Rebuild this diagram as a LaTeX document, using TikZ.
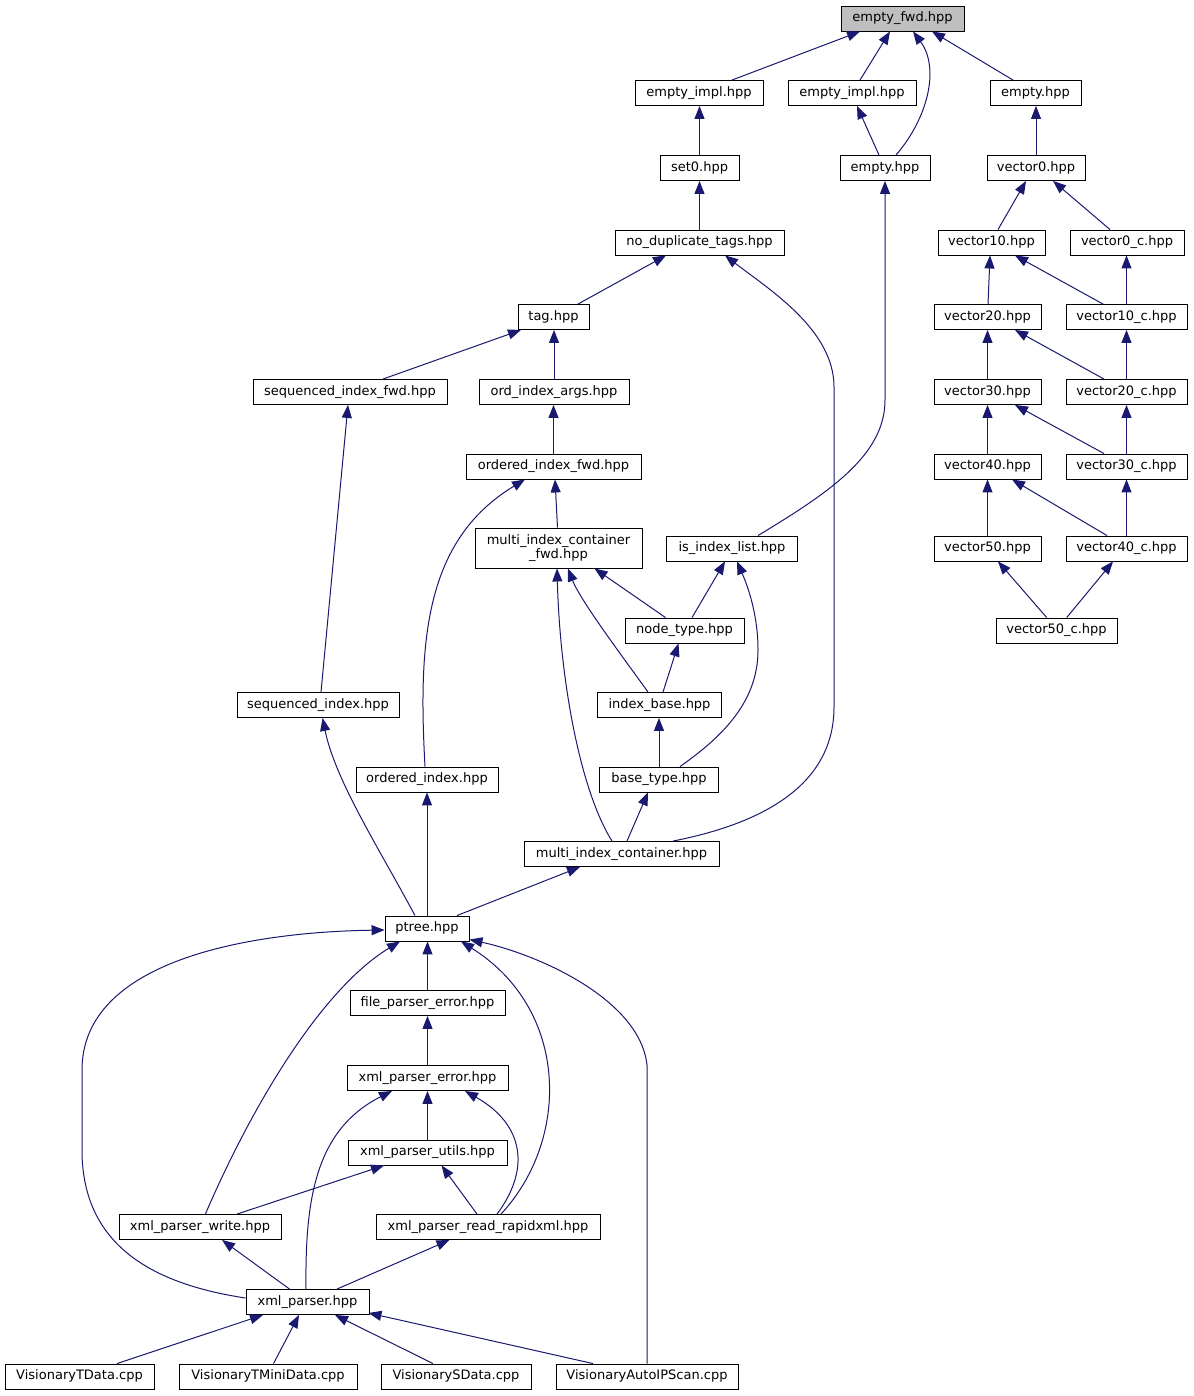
\documentclass[tikz,border=0pt]{standalone}
\usepackage{fontspec}
\setmainfont{DejaVu Sans}
\usetikzlibrary{arrows.meta}
\definecolor{edgeblue}{HTML}{191970}
\definecolor{rootgray}{HTML}{BFBFBF}
\begin{document}
\begin{tikzpicture}[x=1pt,y=-1pt,
  box/.style={draw=black, line width=0.9pt, fill=white, minimum height=25pt, inner sep=0pt,
    font=\fontsize{13}{14}\selectfont, text height=9.6pt, text depth=3pt},
  edge/.style={draw=edgeblue, line width=1pt, -{Triangle[length=13pt,width=10pt]}}]
\useasboundingbox (0,0) rectangle (1193,1396);
\fill[white] (0,0) rectangle (1193,1396);
% nodes
\node[box, minimum width=123pt, fill=rootgray] (efwd) at (902.5,18.5) {empty\_fwd.hpp};
\node[box, minimum width=128pt] (eimplA) at (699,93) {empty\_impl.hpp};
\node[box, minimum width=128pt] (eimplB) at (852,93) {empty\_impl.hpp};
\node[box, minimum width=91pt] (emptyA) at (1035.5,93) {empty.hpp};
\node[box, minimum width=79pt] (set0) at (699.5,168) {set0.hpp};
\node[box, minimum width=90pt] (emptyB) at (885,168) {empty.hpp};
\node[box, minimum width=98pt] (vec0) at (1036,168) {vector0.hpp};
\node[box, minimum width=169pt] (nodup) at (699.5,242.5) {no\_duplicate\_tags.hpp};
\node[box, minimum width=107pt] (vec10) at (991.5,242.5) {vector10.hpp};
\node[box, minimum width=114pt] (vec0c) at (1127,242.5) {vector0\_c.hpp};
\node[box, minimum width=71pt] (tag) at (553.5,317) {tag.hpp};
\node[box, minimum width=107pt] (vec20) at (987.5,317) {vector20.hpp};
\node[box, minimum width=121pt] (vec10c) at (1126.5,317) {vector10\_c.hpp};
\node[box, minimum width=194pt] (seqfwd) at (350,392) {sequenced\_index\_fwd.hpp};
\node[box, minimum width=150pt] (ordargs) at (554,392) {ord\_index\_args.hpp};
\node[box, minimum width=107pt] (vec30) at (987.5,392) {vector30.hpp};
\node[box, minimum width=121pt] (vec20c) at (1126.5,392) {vector20\_c.hpp};
\node[box, minimum width=175pt] (ordfwd) at (553.5,466.5) {ordered\_index\_fwd.hpp};
\node[box, minimum width=107pt] (vec40) at (987.5,466.5) {vector40.hpp};
\node[box, minimum width=121pt] (vec30c) at (1126.5,466.5) {vector30\_c.hpp};
\node[box, minimum width=167pt, minimum height=40pt, text height={}, text depth={}, align=center] (micfwd) at (558.5,548) {multi\_index\_container\\\_fwd.hpp};
\node[box, minimum width=131pt] (isil) at (732,548.5) {is\_index\_list.hpp};
\node[box, minimum width=107pt] (vec50) at (987.5,548.5) {vector50.hpp};
\node[box, minimum width=121pt] (vec40c) at (1126.5,548.5) {vector40\_c.hpp};
\node[box, minimum width=119pt] (ntype) at (684.5,630.5) {node\_type.hpp};
\node[box, minimum width=121pt] (vec50c) at (1056.5,630.5) {vector50\_c.hpp};
\node[box, minimum width=162pt] (seqidx) at (318,705) {sequenced\_index.hpp};
\node[box, minimum width=124pt] (ibase) at (659.5,705) {index\_base.hpp};
\node[box, minimum width=142pt] (ordidx) at (427,779.5) {ordered\_index.hpp};
\node[box, minimum width=119pt] (btype) at (659,779.5) {base\_type.hpp};
\node[box, minimum width=195pt] (mic) at (621.5,854) {multi\_index\_container.hpp};
\node[box, minimum width=84pt] (ptree) at (427,928.5) {ptree.hpp};
\node[box, minimum width=155pt] (fpe) at (427.5,1003) {file\_parser\_error.hpp};
\node[box, minimum width=161pt] (xpe) at (427.5,1078) {xml\_parser\_error.hpp};
\node[box, minimum width=159pt] (xpu) at (427.5,1152.5) {xml\_parser\_utils.hpp};
\node[box, minimum width=162pt] (xpw) at (200,1227) {xml\_parser\_write.hpp};
\node[box, minimum width=224pt] (xprr) at (488,1227) {xml\_parser\_read\_rapidxml.hpp};
\node[box, minimum width=123pt] (xp) at (307.5,1302) {xml\_parser.hpp};
\node[box, minimum width=149pt] (vt) at (79.5,1376.5) {VisionaryTData.cpp};
\node[box, minimum width=178pt] (vtm) at (268,1376.5) {VisionaryTMiniData.cpp};
\node[box, minimum width=150pt] (vs) at (456,1376.5) {VisionarySData.cpp};
\node[box, minimum width=182pt] (vaip) at (647,1376.5) {VisionaryAutoIPScan.cpp};
% edges
\draw[edge] ([xshift=33pt]eimplA.north) -- ([xshift=-42.5pt]efwd.south);
\draw[edge] ([xshift=8pt]eimplB.north) -- ([xshift=-12.5pt]efwd.south);
\draw[edge] ([xshift=11pt]emptyB.north) .. controls (928,118) and (940,68) .. ([xshift=10.5pt]efwd.south);
\draw[edge] ([xshift=-22.5pt]emptyA.north) -- ([xshift=29.5pt]efwd.south);
\draw[edge] ([xshift=-6pt]emptyB.north) -- ([xshift=5pt]eimplB.south);
\draw[edge] (set0.north) -- (set0.north |- eimplA.south);
\draw[edge] (vec0.north) -- (vec0.north |- emptyA.south);
\draw[edge] (nodup.north) -- (nodup.north |- set0.south);
\draw[edge] ([xshift=6.5pt]vec10.north) -- ([xshift=-10pt]vec0.south);
\draw[edge] ([xshift=-17pt]vec0c.north) -- ([xshift=17pt]vec0.south);
\draw[edge] ([xshift=26pt]isil.north) .. controls (830,492) and (885,455) .. (885,400) -- (emptyB.south);
\draw[edge] ([xshift=24.5pt]tag.north) -- ([xshift=-33.5pt]nodup.south);
\draw[edge] ([xshift=51.5pt]mic.north) .. controls (780,820) and (834,775) .. (834,707) -- (834,387) .. controls (834,330) and (770,290) .. ([xshift=25.5pt]nodup.south);
\draw[edge] ([xshift=-23.5pt]vec10c.north) -- ([xshift=23.5pt]vec10.south);
\draw[edge] (vec10c.north) -- (vec10c.north |- vec0c.south);
\draw[edge] ([xshift=0.5pt]vec20.north) -- ([xshift=-1.5pt]vec10.south);
\draw[edge] ([xshift=-22.5pt]vec20c.north) -- ([xshift=27.5pt]vec20.south);
\draw[edge] (vec20c.north) -- (vec10c.south);
\draw[edge] (vec30.north) -- (vec20.south);
\draw[edge] ([xshift=-22.5pt]vec30c.north) -- ([xshift=27.5pt]vec30.south);
\draw[edge] (vec30c.north) -- (vec20c.south);
\draw[edge] (vec40.north) -- (vec30.south);
\draw[edge] ([xshift=-19.5pt]vec40c.north) -- ([xshift=24.5pt]vec40.south);
\draw[edge] (vec40c.north) -- (vec30c.south);
\draw[edge] (vec50.north) -- (vec40.south);
\draw[edge] ([xshift=-9.8pt]vec50c.north) -- ([xshift=10.5pt]vec50.south);
\draw[edge] ([xshift=10.2pt]vec50c.north) -- ([xshift=-13.5pt]vec40c.south);
\draw[edge] ([xshift=33pt]seqfwd.north) -- ([xshift=-32.5pt]tag.south);
\draw[edge] (ordargs.north) -- (ordargs.north |- tag.south);
\draw[edge] (ordfwd.north) -- (ordfwd.north |- ordargs.south);
\draw[edge] ([xshift=-1pt]micfwd.north) -- ([xshift=1.5pt]ordfwd.south);
\draw[edge] ([xshift=-2pt]ordidx.north) .. controls (418,640) and (425,540) .. ([xshift=-28.5pt]ordfwd.south);
\draw[edge] ([xshift=3pt]seqidx.north) -- ([xshift=-2pt]seqfwd.south);
\draw[edge] ([xshift=-19pt]ntype.north) -- ([xshift=36pt]micfwd.south);
\draw[edge] ([xshift=7.5pt]ntype.north) -- ([xshift=-7pt]isil.south);
\draw[edge] ([xshift=-11.5pt]ibase.north) .. controls (625,660) and (580,600) .. ([xshift=9.5pt]micfwd.south);
\draw[edge] ([xshift=3.5pt]ibase.north) -- ([xshift=-6pt]ntype.south);
\draw[edge] (btype.north) -- (btype.north |- ibase.south);
\draw[edge] ([xshift=21pt]btype.north) .. controls (725,735) and (758,700) .. (758,650) .. controls (758,610) and (745,580) .. ([xshift=5pt]isil.south);
\draw[edge] ([xshift=-9.5pt]mic.north) .. controls (580,790) and (560,680) .. ([xshift=-1.5pt]micfwd.south);
\draw[edge] ([xshift=5.5pt]mic.north) -- ([xshift=-11pt]btype.south);
\draw[edge] ([xshift=30pt]ptree.north) -- ([xshift=-41.5pt]mic.south);
\draw[edge] ([xshift=-12pt]ptree.north) .. controls (380,850) and (335,780) .. ([xshift=4.6pt]seqidx.south);
\draw[edge] (ptree.north) -- (ptree.north |- ordidx.south);
\draw[edge] (fpe.north) -- (fpe.north |- ptree.south);
\draw[edge] (xpe.north) -- (xpe.north |- fpe.south);
\draw[edge] (xpu.north) -- (xpu.north |- xpe.south);
\draw[edge] ([xshift=5.4pt]xpw.north) .. controls (250,1110) and (320,990) .. ([xshift=-27pt]ptree.south);
\draw[edge] ([xshift=13pt]xprr.north) .. controls (570,1140) and (570,1010) .. ([xshift=34pt]ptree.south);
\draw[edge] ([yshift=4pt]xp.west) .. controls (160,1285) and (82,1250) .. (82,1150) -- (82,1070) .. controls (82,960) and (250,932) .. ([yshift=-1.5pt]ptree.west);
\draw[edge] (vaip.north) -- (vaip.north |- xpe.north) .. controls (640,1000) and (540,955) .. ([yshift=-11pt]ptree.east);
\draw[edge] ([xshift=37pt]xpw.north) -- ([xshift=-43.5pt]xpu.south);
\draw[edge] ([xshift=-11pt]xprr.north) -- ([xshift=14pt]xpu.south);
\draw[edge] ([xshift=9pt]xprr.north) .. controls (530,1170) and (525,1125) .. ([xshift=37.5pt]xpe.south);
\draw[edge] ([xshift=-1.5pt]xp.north) .. controls (305,1200) and (315,1130) .. ([xshift=-35.5pt]xpe.south);
\draw[edge] ([xshift=-18pt]xp.north) -- ([xshift=22pt]xpw.south);
\draw[edge] ([xshift=29.5pt]xp.north) -- ([xshift=-38.5pt]xprr.south);
\draw[edge] ([xshift=37.5pt]vt.north) -- ([xshift=-44.5pt]xp.south);
\draw[edge] ([xshift=5.5pt]vtm.north) -- ([xshift=-8.5pt]xp.south);
\draw[edge] ([xshift=-23pt]vs.north) -- ([xshift=27.5pt]xp.south);
\draw[edge] ([xshift=-54pt]vaip.north) -- ([xshift=-1pt,yshift=2pt]xp.south east);
\end{tikzpicture}
\end{document}
